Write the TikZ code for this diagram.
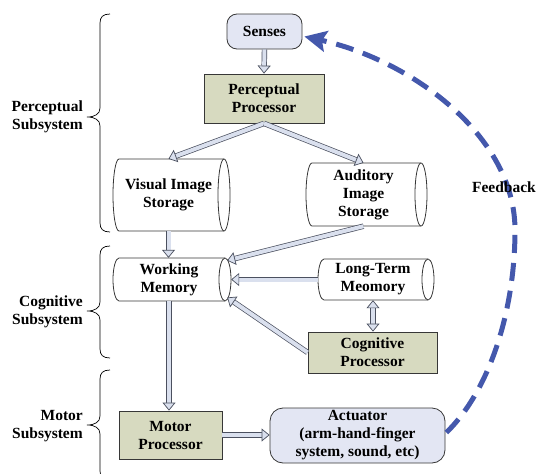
\documentclass[tikz,border=0pt]{standalone}
\usepackage{fontspec}
\setmainfont{Liberation Serif}
\usetikzlibrary{arrows.meta,calc}

\definecolor{boxline}{RGB}{55,55,55}
\definecolor{procfill}{RGB}{215,218,192}
\definecolor{sensefill}{RGB}{227,230,243}
\definecolor{arrowline}{RGB}{75,80,95}
\definecolor{arrowfill}{RGB}{218,224,238}
\definecolor{feedblue}{RGB}{68,88,172}

% horizontal storage cylinder: name, left, right, top, bottom, text
\newcommand\cylbox[6]{%
  \pgfmathsetmacro\cyLa{#2+6}%
  \pgfmathsetmacro\cyRa{#3-6}%
  \pgfmathsetmacro\cyHr{(#5-#4)/2}%
  \pgfmathsetmacro\cyMid{(#4+#5)/2}%
  \pgfmathsetmacro\cyCx{(#2+#3)/2-3}%
  \pgfmathsetmacro\cyW{#3-#2-6}%
  \pgfmathsetmacro\cyH{#5-#4}%
  \filldraw[cylbody] (\cyLa,-#4) -- (\cyRa,-#4)
    arc[start angle=90,end angle=-90,x radius=6,y radius=\cyHr]
    -- (\cyLa,-#5)
    arc[start angle=270,end angle=90,x radius=6,y radius=\cyHr] -- cycle;
  \draw[cylbody] (\cyRa,-#4) arc[start angle=90,end angle=270,x radius=6,y radius=\cyHr];
  \node[txt, minimum width=\cyW pt, minimum height=\cyH pt] (#1) at (\cyCx,-\cyMid) {#6};
}

% curly brace opening to the right: top, tip, bottom
\newcommand\subbrace[3]{%
  \draw[braceline] (110,-#1) .. controls (103,-#1) and (100,-#1-3) .. (100,-#1-9)
    -- (100,-#2+9) .. controls (100,-#2+3) and (95,-#2) .. (87,-#2)
    .. controls (95,-#2) and (100,-#2-3) .. (100,-#2-9)
    -- (100,-#3+9) .. controls (100,-#3+3) and (103,-#3) .. (110,-#3);
}

\tikzset{
  x=1pt, y=1pt,
  txt/.style={font=\bfseries\fontsize{15.5}{18}\selectfont, align=center, inner sep=0pt, text=black},
  procbox/.style={txt, draw=boxline, line width=0.8pt, fill=procfill},
  roundbox/.style={txt, draw=boxline, line width=0.8pt, fill=sensefill},
  cylbody/.style={draw=boxline, line width=0.8pt, fill=white},
  braceline/.style={draw=black, line width=0.7pt},
  hollow/.style={draw=arrowline, line width=0.7pt, double=arrowfill, double distance=4pt,
    -{Triangle[length=8pt,width=13pt,fill=arrowfill,line width=0.7pt]}},
  hollowboth/.style={draw=arrowline, line width=0.7pt, double=arrowfill, double distance=4pt,
    {Triangle[length=8pt,width=13pt,fill=arrowfill,line width=0.7pt]}-{Triangle[length=8pt,width=13pt,fill=arrowfill,line width=0.7pt]}},
  feedback/.style={draw=feedblue, line width=5pt, dash pattern=on 18pt off 10pt,
    -{Stealth[length=22pt,width=21pt,inset=4pt]}},
  sidelabel/.style={txt, anchor=east, align=right},
}

\begin{document}
\begin{tikzpicture}
\useasboundingbox (0,0) rectangle (539,-474);

% processing boxes
\node[roundbox, rounded corners=10pt, minimum width=75pt, minimum height=35pt] (senses) at (264.5,-31.5) {Senses};
\node[procbox, minimum width=120pt, minimum height=49pt] (pp) at (264,-98.5) {Perceptual\\Processor};
\node[procbox, minimum width=129pt, minimum height=41pt] (cp) at (372.5,-352.5) {Cognitive\\Processor};
\node[procbox, minimum width=103pt, minimum height=48pt] (mp) at (170.5,-435) {Motor\\Processor};
\node[roundbox, rounded corners=13pt, minimum width=175pt, minimum height=55pt] (act) at (357.5,-435.5) {Actuator\\(arm-hand-finger\\system, sound, etc)};

% storages
\cylbox{vis}{113}{230}{159}{231}{Visual Image\\Storage}
\cylbox{aud}{306}{427}{163}{226}{Auditory\\Image\\Storage}
\cylbox{wm}{113}{231}{258}{301}{Working\\Memory}
\cylbox{ltm}{318}{434}{259}{300}{Long-Term\\Meomory}

% entry points on the working memory end
\coordinate (wmA) at ($(wm.east)+(2,19)$);
\coordinate (wmB) at ($(wm.east)+(6,0)$);
\coordinate (wmC) at ($(wm.east)+(2,-18)$);

% information flow
\draw[hollow] (senses.south) -- (pp.north);
\draw[hollow] (pp.south) -- (vis.north);
\draw[hollow] (pp.south) -- (aud.north);
\draw[hollow] (vis.south) -- (vis.south |- wm.north);
\draw[hollow] (aud.south) -- (wmA);
\draw[hollow] (ltm.west) -- (wmB);
\draw[hollow] (cp.west) -- (wmC);
\draw[hollowboth] (ltm.south) -- (ltm.south |- cp.north);
\draw[hollow] (wm.south) -- (wm.south |- mp.north);
\draw[hollow] (mp.east) -- (mp.east -| act.west);

% feedback loop
\coordinate (fbstart) at ($(act.east)+(1,3)$);
\coordinate (fbmid) at (515,-230);
\coordinate (fbend) at ($(senses.east)+(2,-5)$);
\draw[feedback] (fbstart) .. controls (490,-390) and (515,-310) .. (fbmid)
  .. controls (515,-135) and (410,-60) .. (fbend);
\node[txt] (fblabel) at (504,-187) {Feedback};

% subsystem braces and labels
\subbrace{14}{117}{232}
\subbrace{246}{311}{358}
\subbrace{370}{425}{480}
\node[sidelabel] (lperc) at (83,-117) {Perceptual\\Subsystem};
\node[sidelabel] (lcog) at (83,-312) {Cognitive\\Subsystem};
\node[sidelabel] (lmot) at (83,-426) {Motor\\Subsystem};
\end{tikzpicture}
\end{document}
